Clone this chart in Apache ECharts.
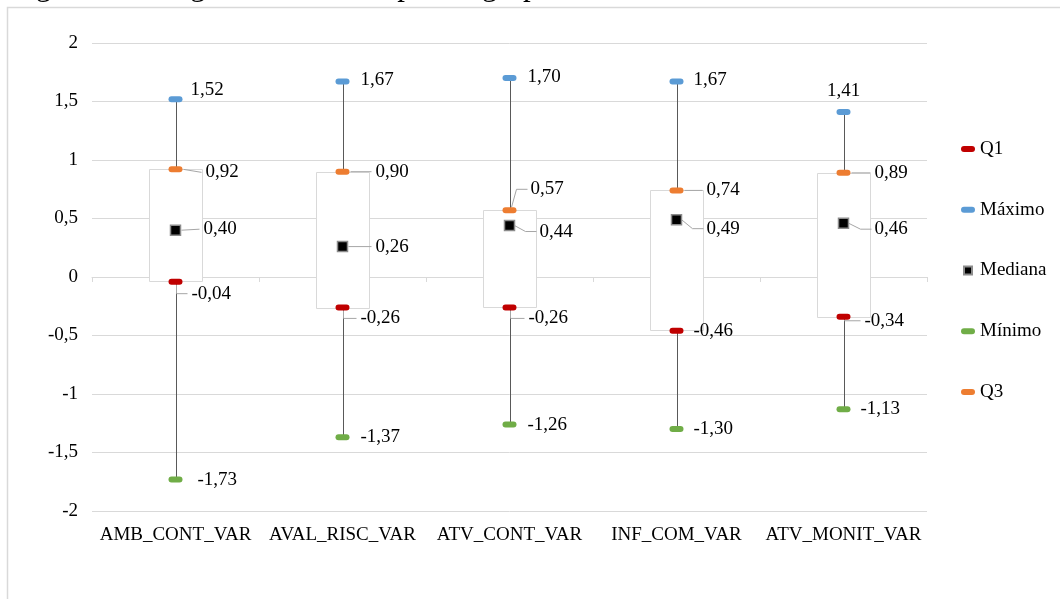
<!DOCTYPE html>
<html>
<head>
<meta charset="utf-8">
<script src="https://cdn.jsdelivr.net/npm/echarts@6/dist/echarts.min.js"></script>
<style>
  html, body { margin: 0; padding: 0; background: #fff; }
  #chart { width: 1060px; height: 599px; }
</style>
</head>
<body>
<div id="chart"></div>
<script>
// Estatísticas descritivas por dimensão
const categorias = ['AMB_CONT_VAR', 'AVAL_RISC_VAR', 'ATV_CONT_VAR', 'INF_COM_VAR', 'ATV_MONIT_VAR'];
const maximo  = [1.52, 1.67, 1.70, 1.67, 1.41];
const q3      = [0.92, 0.90, 0.57, 0.74, 0.89];
const mediana = [0.40, 0.26, 0.44, 0.49, 0.46];
const q1      = [-0.04, -0.26, -0.26, -0.46, -0.34];
const minimo  = [-1.73, -1.37, -1.26, -1.30, -1.13];

const FONTE = "'Liberation Serif', 'Times New Roman', serif";
const fmt = v => v.toFixed(2).replace('.', ',');
const fmtEixo = v => String(v).replace('.', ',');

// Posição dos rótulos em relação ao marcador: [dx, dy, guia]
const posRotulos = {
  'Q1':      [[16, 12, 'L'], [18, 11, 'L'], [19, 11, 'L'], [17, 0, null], [21, 4, 'L']],
  'Máximo':  [[15, -9, null], [18, -2, null], [18, -1, null], [17, -2, null], [0, -21, 'topo']],
  'Mediana': [[28, -1, 'h'], [33, 0, 'h'], [30, 6, 'd'], [30, 9, 'd'], [31, 6, 'd']],
  'Mínimo':  [[22, 1, null], [18, 0, null], [18, 1, null], [17, 0, null], [17, 0, null]],
  'Q3':      [[30, 3, 'h'], [33, 0, 'h'], [21, -21, 'd'], [30, 0, 'h'], [31, 0, 'h']]
};

const CAPSULA = 'path://M3,0 L11,0 A3,3 0 0 1 11,6 L3,6 A3,3 0 0 1 3,0 Z';
const QUADRADO = 'path://M0,0 L10,0 L10,10 L0,10 Z';

const estatisticas = [
  { nome: 'Q1',      valores: q1,      cor: '#c00000', simbolo: CAPSULA,  tam: [14, 6], meia: 7 },
  { nome: 'Máximo',  valores: maximo,  cor: '#5b9bd5', simbolo: CAPSULA,  tam: [14, 6], meia: 7 },
  { nome: 'Mediana', valores: mediana, cor: '#000000', simbolo: QUADRADO, tam: [10, 10], meia: 5 },
  { nome: 'Mínimo',  valores: minimo,  cor: '#70ad47', simbolo: CAPSULA,  tam: [14, 6], meia: 7 },
  { nome: 'Q3',      valores: q3,      cor: '#ed7d31', simbolo: CAPSULA,  tam: [14, 6], meia: 7 }
];

// Linhas-guia dos rótulos afastados
const guias = [];
estatisticas.forEach(e => {
  e.valores.forEach((v, i) => {
    const [dx, dy, tipo] = posRotulos[e.nome][i];
    if (tipo && tipo !== 'topo') guias.push({ cat: i, val: v, dx, dy, tipo, meia: e.meia });
  });
});

const seriesMarcadores = estatisticas.map(e => ({
  name: e.nome,
  type: 'scatter',
  z: 5,
  symbol: e.simbolo,
  symbolSize: e.tam,
  itemStyle: e.nome === 'Mediana'
    ? { color: e.cor, borderColor: '#8c8c8c', borderWidth: 1.5, opacity: 1 }
    : { color: e.cor, opacity: 1 },
  emphasis: { disabled: true },
  data: e.valores.map((v, i) => {
    const [dx, dy, tipo] = posRotulos[e.nome][i];
    return {
      value: [i, v],
      label: tipo === 'topo'
        ? { align: 'center', offset: [0, dy] }
        : { align: 'left', offset: [dx, dy] }
    };
  }),
  label: {
    show: true,
    position: 'inside',
    verticalAlign: 'middle',
    color: '#000',
    fontFamily: FONTE,
    fontSize: 19,
    formatter: p => fmt(p.value[1])
  }
}));

const chart = echarts.init(document.getElementById('chart'), null, { renderer: 'canvas' });

chart.setOption({
  animation: false,
  backgroundColor: '#fff',
  graphic: [
    {
      type: 'rect', z: -10, silent: true,
      shape: { x: 7.5, y: 7.5, width: 1100, height: 700 },
      style: { fill: '#fff', stroke: '#d9d9d9', lineWidth: 1.5 }
    },
    {
      type: 'text', z: 10, silent: true, left: 10, top: -29,
      style: {
        text: 'Figura 3 – Diagrama de caixas para o grupo controle',
        font: "31px 'Liberation Serif', serif",
        fill: '#000'
      }
    }
  ],
  grid: { left: 92, right: 133, top: 43, bottom: 88, containLabel: false },
  legend: {
    orient: 'vertical',
    left: 956,
    top: 134,
    itemWidth: 14,
    itemHeight: 8,
    itemGap: 40.75,
    symbolKeepAspect: true,
    selectedMode: false,
    textStyle: { fontFamily: FONTE, fontSize: 19, color: '#000', lineHeight: 20 },
    data: estatisticas.map(e => ({ name: e.nome, icon: e.simbolo }))
  },
  xAxis: [
    {
      type: 'category',
      data: categorias,
      position: 'bottom',
      axisLine: { onZero: true, lineStyle: { color: '#d9d9d9', width: 1 } },
      axisTick: { show: true, alignWithLabel: false, length: 5, lineStyle: { color: '#d9d9d9' } },
      axisLabel: { show: false },
      splitLine: { show: false }
    },
    {
      type: 'category',
      data: categorias,
      position: 'bottom',
      axisLine: { show: false, onZero: false },
      axisTick: { show: false },
      axisLabel: { show: true, margin: 15, color: '#000', fontFamily: FONTE, fontSize: 19, interval: 0 },
      splitLine: { show: false }
    }
  ],
  yAxis: {
    type: 'value',
    min: -2,
    max: 2,
    interval: 0.5,
    axisLine: { show: false },
    axisTick: { show: false },
    axisLabel: { margin: 14, color: '#000', fontFamily: FONTE, fontSize: 19, formatter: fmtEixo },
    splitLine: { lineStyle: { color: '#d9d9d9', width: 1 } }
  },
  series: [
    {
      // Haste do mínimo ao máximo
      type: 'custom',
      name: 'haste',
      z: 2,
      silent: true,
      data: categorias.map((c, i) => [i, minimo[i], maximo[i]]),
      renderItem: (params, api) => {
        const a = api.coord([api.value(0), api.value(1)]);
        const b = api.coord([api.value(0), api.value(2)]);
        const x = Math.round(a[0]) + 0.5;
        return {
          type: 'line',
          shape: { x1: x, y1: a[1], x2: x, y2: b[1] },
          style: { stroke: '#595959', lineWidth: 1 }
        };
      }
    },
    {
      // Caixa do Q1 ao Q3
      type: 'custom',
      name: 'caixa',
      z: 3,
      silent: true,
      data: categorias.map((c, i) => [i, q1[i], q3[i]]),
      renderItem: (params, api) => {
        const a = api.coord([api.value(0), api.value(1)]);
        const b = api.coord([api.value(0), api.value(2)]);
        const x = Math.round(a[0] - 26.5) + 0.5;
        return {
          type: 'rect',
          shape: { x: x, y: Math.round(b[1]) + 0.5, width: 53, height: Math.round(a[1] - b[1]) },
          style: { fill: '#fff', stroke: '#d9d9d9', lineWidth: 1 }
        };
      }
    },
    {
      // Linhas-guia
      type: 'custom',
      name: 'guias',
      z: 4,
      silent: true,
      data: guias.map(g => [g.cat, g.val]),
      renderItem: (params, api) => {
        const g = guias[params.dataIndex];
        const p = api.coord([g.cat, g.val]);
        const cx = p[0], cy = p[1];
        let pts;
        if (g.tipo === 'h') {
          pts = [[cx + g.meia + 1, cy], [cx + g.dx - 4, cy + g.dy]];
        } else if (g.tipo === 'L') {
          pts = [[cx + 1, cy + 3], [cx + 1, cy + g.dy], [cx + g.dx - 4, cy + g.dy]];
        } else if (g.dy < 0) {
          pts = [[cx + 2, cy - 3], [cx + 7, cy + g.dy], [cx + g.dx - 3, cy + g.dy]];
        } else {
          pts = [[cx + g.meia, cy], [cx + g.dx - 14, cy + g.dy], [cx + g.dx - 3, cy + g.dy]];
        }
        return {
          type: 'polyline',
          shape: { points: pts },
          style: { stroke: '#a6a6a6', lineWidth: 1, fill: null }
        };
      }
    },
    ...seriesMarcadores
  ]
});
</script>
</body>
</html>
